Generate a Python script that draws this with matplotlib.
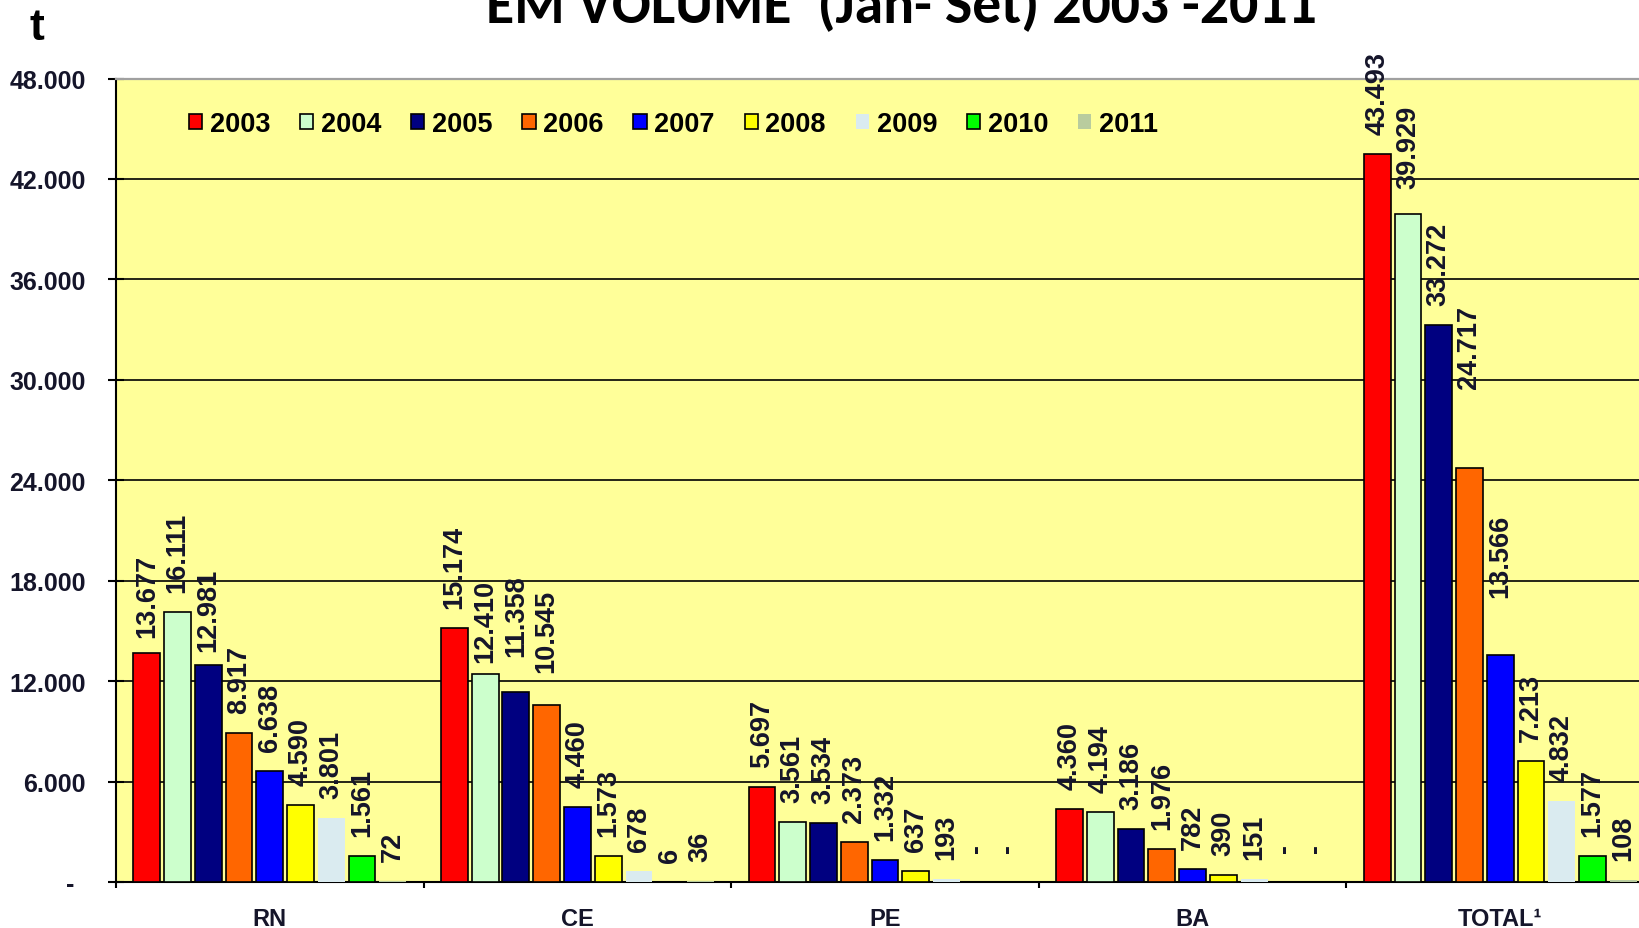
import matplotlib
matplotlib.use("Agg")
import matplotlib.pyplot as plt
from matplotlib.patches import Patch
import matplotlib.transforms as mtransforms
import numpy as np

# ---------------- data ----------------
categories = ["RN", "CE", "PE", "BA", "TOTAL\u00b9"]
years = ["2003", "2004", "2005", "2006", "2007", "2008", "2009", "2010", "2011"]
rn = [13677, 16111, 12981, 8917, 6638, 4590, 3801, 1561, 72]
ce = [15174, 12410, 11358, 10545, 4460, 1573, 678, 6, 36]
pe = [5697, 3561, 3534, 2373, 1332, 637, 193, 0, 0]
ba = [4360, 4194, 3186, 1976, 782, 390, 151, 0, 0]
total = [43493, 39929, 33272, 24717, 13566, 7213, 4832, 1577, 108]
yticks = [0, 6000, 12000, 18000, 24000, 30000, 36000, 42000, 48000]
title = "EM VOLUME  (Jan- Set) 2003 -2011"

# ---------------- style ----------------
colors = ["#FF0000", "#CCFFCC", "#000080", "#FF6600", "#0000FF",
          "#FFFF00", "#DAEBF0", "#00FF00", "#B9CC9E"]
edged = [True, True, True, True, True, True, False, True, False]
FONT = ["Liberation Sans", "DejaVu Sans"]
TXT = "#15152a"
BG = "#FFFF99"

W, H = 1639, 929
DPI = 100
px = 72.0 / DPI  # points per pixel

fig = plt.figure(figsize=(W / DPI, H / DPI), dpi=DPI)
fig.patch.set_facecolor("white")
ax = fig.add_axes([116 / W, (H - 883) / H, 1538 / W, 803.5 / H])
ax.set_facecolor(BG)

matrix = np.array([rn, ce, pe, ba, total])
x = np.arange(len(categories))
spacing = 0.1
width = 0.087


def fmt(v):
    if v == 0:
        return "-"
    return f"{v:,}".replace(",", ".")


# extra label offsets (pixels) where the original labels sit higher/lower
extra = {(0, 0): -4, (0, 2): -6, (1, 1): -8, (1, 2): 16, (1, 3): 13,
         (4, 1): 6, (4, 3): 60, (4, 4): 38}

for j, yr in enumerate(years):
    off = (j - (len(years) - 1) / 2) * spacing
    vals = matrix[:, j]
    ax.bar(x + off, vals, width, color=colors[j],
           edgecolor="black" if edged[j] else "none",
           linewidth=1.2 if edged[j] else 0, zorder=3)
    for i, v in enumerate(vals):
        base = 30 if v == 0 else 20
        dy = (base + extra.get((i, j), 0)) * px
        ax.annotate(fmt(v), (x[i] + off, v), xytext=(0, dy),
                    textcoords="offset points", rotation=90,
                    ha="center", va="bottom", fontsize=19.5,
                    fontweight="bold", family=FONT, color=TXT, zorder=5)

# axes
ax.set_xlim(-0.5, 4.5)
ax.set_ylim(0, 48000)
ax.set_yticks(yticks)
ax.set_yticklabels(["" if v == 0 else f"{v:,}".replace(",", ".") for v in yticks])
ax.tick_params(axis="y", direction="inout", length=16 * px, width=1.5,
               pad=16, labelsize=18, labelcolor=TXT)
for lab in ax.get_yticklabels():
    lab.set_fontweight("bold")
    lab.set_family(FONT)
# zero label "-"
trans = mtransforms.blended_transform_factory(ax.transAxes, ax.transData)
ax.annotate("-", (0, 0), xycoords=trans, xytext=(-30, 0),
            textcoords="offset points", ha="right", va="center_baseline",
            fontsize=18, fontweight="bold", family=FONT, color=TXT,
            annotation_clip=False)

ax.set_xticks(x)
ax.set_xticklabels(categories)
ax.set_xticks(np.arange(-0.5, 5.0, 1.0), minor=True)
ax.tick_params(axis="x", which="major", length=0, pad=18, labelsize=17,
               labelcolor=TXT)
ax.tick_params(axis="x", which="minor", direction="out", length=6 * px,
               width=1.5)
for lab in ax.get_xticklabels():
    lab.set_fontweight("bold")
    lab.set_family(FONT)

ax.yaxis.grid(True, color="black", linewidth=1.2, zorder=1)
ax.set_axisbelow(True)
ax.spines["right"].set_visible(False)
ax.spines["top"].set_color("#A0A0A0")
ax.spines["top"].set_linewidth(1.6)
ax.spines["left"].set_linewidth(1.5)
ax.spines["bottom"].set_linewidth(1.5)

# legend
handles = [Patch(facecolor=c, edgecolor="black" if e else "none",
                 linewidth=1.2 if e else 0) for c, e in zip(colors, edged)]
fig.legend(handles, years, loc="center left",
           bbox_to_anchor=(189 / W, 1 - 125 / H), ncol=9, frameon=False,
           borderpad=0, borderaxespad=0, handlelength=0.49, handleheight=0.47,
           handletextpad=0.28, columnspacing=1.1,
           prop=dict(family=FONT, weight="bold", size=19.5))

# "t" unit label
fig.text(37 / W, 1 - 40 / H, "t", ha="center", va="baseline", fontsize=32,
         fontweight="bold", family=FONT, color="black")

# title (cut at the top edge like the original)
t = fig.text(901 / W, 1 - 23 / H, title, ha="center", va="baseline",
             fontsize=38, fontweight="bold",
             family=["Carlito", "Lato", "DejaVu Sans"], color="black")
fig.canvas.draw()
bb = t.get_window_extent()
t.set_fontsize(38 * 832.0 / bb.width)

fig.savefig("out.png", dpi=DPI, facecolor="white")
